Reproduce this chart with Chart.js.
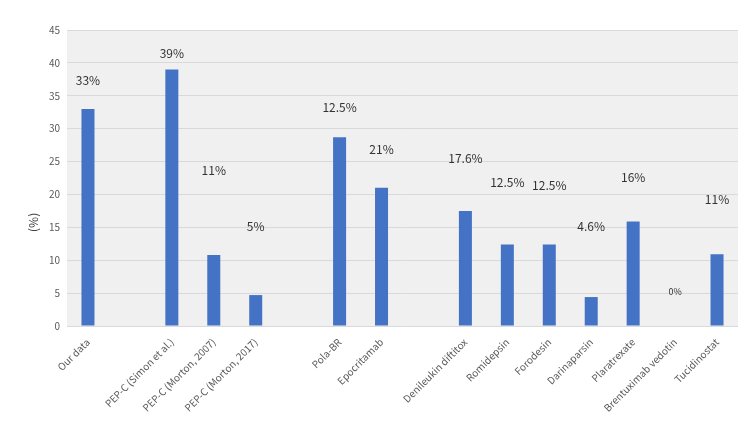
<!DOCTYPE html>
<html>
<head>
<meta charset="utf-8">
<script src="https://cdn.jsdelivr.net/npm/chart.js@4"></script>
<style>
  html, body { margin: 0; padding: 0; background: #fff; }
  #wrap { width: 750px; height: 422px; }
</style>
</head>
<body>
<div id="wrap"><canvas id="myChart" width="750" height="422"></canvas></div>
<script>
const labels = [
  'Our data', '', 'PEP-C (Simon et al.)', 'PEP-C (Morton, 2007)', 'PEP-C (Morton, 2017)', '',
  'Pola-BR', 'Epocritamab', '', 'Denileukin diftitox', 'Romidepsin', 'Forodesin',
  'Darinaparsin', 'Plaratrexate', 'Brentuximab vedotin', 'Tucidinostat'
];
const values = [33, null, 39, 10.8, 4.7, null, 28.7, 21, null, 17.5, 12.4, 12.4, 4.4, 15.9, 0, 10.9];
const valueText = ['33%', '', '39%', '11%', '5%', '', '12.5%', '21%', '', '17.6%', '12.5%', '12.5%', '4.6%', '16%', '0%', '11%'];
// where each text label sits, in axis units (as placed in the original)
const textAt = [37.4, null, 41.5, 23.7, 15.2, null, 33.2, 26.8, null, 25.5, 21.9, 21.4, 15.2, 22.6, 5.3, 19.3];
const yTicks = [0, 5, 10, 15, 20, 25, 30, 35, 40, 45];
const yTitle = '(%)';

const font = "'Noto Sans CJK JP', 'Noto Sans', sans-serif";

const plotBg = {
  id: 'plotBg',
  beforeDraw(chart) {
    const a = chart.chartArea;
    const c = chart.ctx;
    c.save();
    c.fillStyle = '#f0f0f0';
    c.fillRect(a.left, a.top, a.right - a.left, a.bottom - a.top);
    c.restore();
  }
};

const valueLabels = {
  id: 'valueLabels',
  afterDatasetsDraw(chart) {
    const c = chart.ctx;
    const meta = chart.getDatasetMeta(0);
    const ys = chart.scales.y;
    const a = chart.chartArea;
    c.save();
    c.fillStyle = '#333333';
    c.textAlign = 'center';
    c.textBaseline = 'middle';
    meta.data.forEach((bar, i) => {
      if (!valueText[i]) return;
      c.font = (valueText[i] === '0%' ? '9px ' : '12px ') + font;
      c.fillText(valueText[i], bar.x, ys.getPixelForValue(textAt[i]));
    });
    // y axis title, sits a bit below the middle like the original
    c.translate(33, a.top + (a.bottom - a.top) * 0.65);
    c.rotate(-Math.PI / 2);
    c.font = '12px ' + font;
    c.fillStyle = '#404040';
    c.fillText(yTitle, 0, 0);
    c.restore();
  }
};

new Chart(document.getElementById('myChart'), {
  type: 'bar',
  data: {
    labels: labels,
    datasets: [{
      data: values,
      backgroundColor: '#4472c4',
      barPercentage: 0.62,
      categoryPercentage: 0.5
    }]
  },
  options: {
    responsive: false,
    animation: false,
    layout: { padding: { top: 30, right: 12, left: 0, bottom: 0 } },
    plugins: {
      legend: { display: false },
      tooltip: { enabled: false }
    },
    scales: {
      x: {
        grid: { display: false },
        border: { display: false },
        ticks: {
          color: '#595959',
          font: { family: font, size: 10 },
          minRotation: 45,
          maxRotation: 45,
          autoSkip: false,
          padding: 2
        },
        afterFit(s) { s.height = 96; }
      },
      y: {
        min: 0,
        max: 45,
        afterBuildTicks(s) { s.ticks = yTicks.map(v => ({ value: v })); },
        grid: { color: '#d9d9d9', drawTicks: false },
        border: { display: false },
        ticks: {
          color: '#595959',
          font: { family: font, size: 10 },
          padding: 7
        },
        afterFit(s) { s.width = 67; }
      }
    }
  },
  plugins: [plotBg, valueLabels]
});
</script>
</body>
</html>
